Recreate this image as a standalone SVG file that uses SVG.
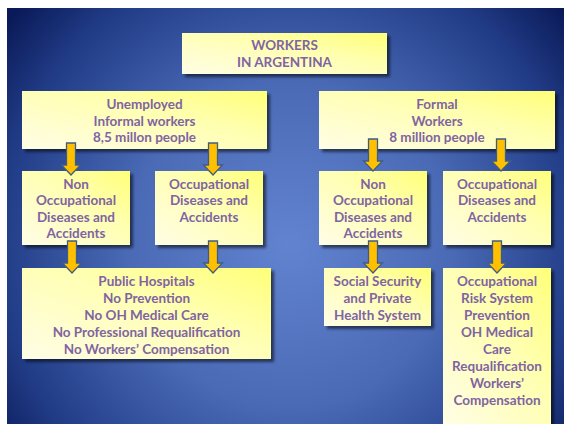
<svg xmlns="http://www.w3.org/2000/svg" width="564" height="424" viewBox="0 0 564 424">
<defs>
<radialGradient id="bg" gradientUnits="userSpaceOnUse" cx="290" cy="245" r="360">
<stop offset="0" stop-color="#6283cf"/>
<stop offset="0.45" stop-color="#4a6ab6"/>
<stop offset="0.8" stop-color="#223d88"/>
<stop offset="1" stop-color="#0a1a58"/>
</radialGradient>
<linearGradient id="box" x1="0" y1="1" x2="1" y2="0">
<stop offset="0" stop-color="#fffde6"/>
<stop offset="0.6" stop-color="#ffffb0"/>
<stop offset="1" stop-color="#ffff78"/>
</linearGradient>
<filter id="sh" x="-10%" y="-10%" width="130%" height="130%">
<feGaussianBlur in="SourceAlpha" stdDeviation="1.5"/>
<feOffset dx="2.5" dy="2.5" result="b"/>
<feComponentTransfer><feFuncA type="linear" slope="0.55"/></feComponentTransfer>
<feMerge><feMergeNode/><feMergeNode in="SourceGraphic"/></feMerge>
</filter>
<path id="arr" d="M-4.5,0 H4.5 V22 H9.5 L0,32 L-9.5,22 H-4.5 Z"/>
</defs>
<style>
.b{fill:url(#box);filter:url(#sh)}
.t{font-family:Lato,"Liberation Sans",sans-serif;font-weight:bold;font-size:13.5px;fill:#8064a2;text-anchor:middle}
.a{fill:#ffc000;stroke:#3f5d84;stroke-width:1.3;stroke-linejoin:miter}
</style>
<rect x="7" y="8" width="557" height="416" fill="url(#bg)"/>

<g id="n-workers">
<rect class="b" x="182" y="33" width="205" height="41"/>
<text class="t" x="284.5" y="50">WORKERS</text>
<text class="t" x="284.5" y="67">IN ARGENTINA</text>
</g>

<g id="n-unemployed">
<rect class="b" x="22" y="91" width="245" height="58"/>
<text class="t" x="144.5" y="109">Unemployed</text>
<text class="t" x="144.5" y="126">Informal workers</text>
<text class="t" x="144.5" y="142">8,5 millon people</text>
</g>

<g id="n-formal">
<rect class="b" x="319" y="91" width="236" height="58"/>
<text class="t" x="437" y="109">Formal</text>
<text class="t" x="437" y="126">Workers</text>
<text class="t" x="437" y="142">8 million people</text>
</g>

<g id="n-nonocc-left">
<rect class="b" x="22" y="171" width="108" height="74"/>
<text class="t" x="76" y="189">Non</text>
<text class="t" x="76" y="205">Occupational</text>
<text class="t" x="76" y="222">Diseases and</text>
<text class="t" x="76" y="238">Accidents</text>
</g>

<g id="n-occ-left">
<rect class="b" x="155" y="171" width="108" height="74"/>
<text class="t" x="209" y="189">Occupational</text>
<text class="t" x="209" y="205">Diseases and</text>
<text class="t" x="209" y="222">Accidents</text>
</g>

<g id="n-nonocc-right">
<rect class="b" x="319" y="171" width="108" height="74"/>
<text class="t" x="373" y="189">Non</text>
<text class="t" x="373" y="205">Occupational</text>
<text class="t" x="373" y="222">Diseases and</text>
<text class="t" x="373" y="238">Accidents</text>
</g>

<g id="n-occ-right">
<rect class="b" x="443" y="171" width="108" height="74"/>
<text class="t" x="497" y="189">Occupational</text>
<text class="t" x="497" y="205">Diseases and</text>
<text class="t" x="497" y="222">Accidents</text>
</g>

<g id="n-public">
<rect class="b" x="22" y="268" width="249" height="91"/>
<text class="t" x="146.5" y="286">Public Hospitals</text>
<text class="t" x="146.5" y="303">No Prevention</text>
<text class="t" x="146.5" y="320">No OH Medical Care</text>
<text class="t" x="146.5" y="337">No Professional  Requalification</text>
<text class="t" x="146.5" y="354">No Workers’ Compensation</text>
</g>

<g id="n-social">
<rect class="b" x="324" y="268" width="107" height="58"/>
<text class="t" x="377.5" y="286">Social Security</text>
<text class="t" x="377.5" y="303">and Private</text>
<text class="t" x="377.5" y="320">Health System</text>
</g>

<g id="n-ors">
<rect class="b" x="443" y="268" width="108" height="160"/>
<text class="t" x="497" y="286">Occupational</text>
<text class="t" x="497" y="303">Risk System</text>
<text class="t" x="497" y="320">Prevention</text>
<text class="t" x="497" y="337">OH Medical</text>
<text class="t" x="497" y="354">Care</text>
<text class="t" x="497" y="371">Requalification</text>
<text class="t" x="497" y="388">Workers’</text>
<text class="t" x="497" y="405">Compensation</text>
</g>

<g id="connectors">
<use href="#arr" class="a" x="71" y="143"/>
<use href="#arr" class="a" x="213" y="143"/>
<use href="#arr" class="a" x="373" y="139"/>
<use href="#arr" class="a" x="501" y="139"/>
<use href="#arr" class="a" x="72" y="241"/>
<use href="#arr" class="a" x="213" y="241"/>
<use href="#arr" class="a" x="373" y="241"/>
<use href="#arr" class="a" x="497" y="241"/>
</g>
</svg>
